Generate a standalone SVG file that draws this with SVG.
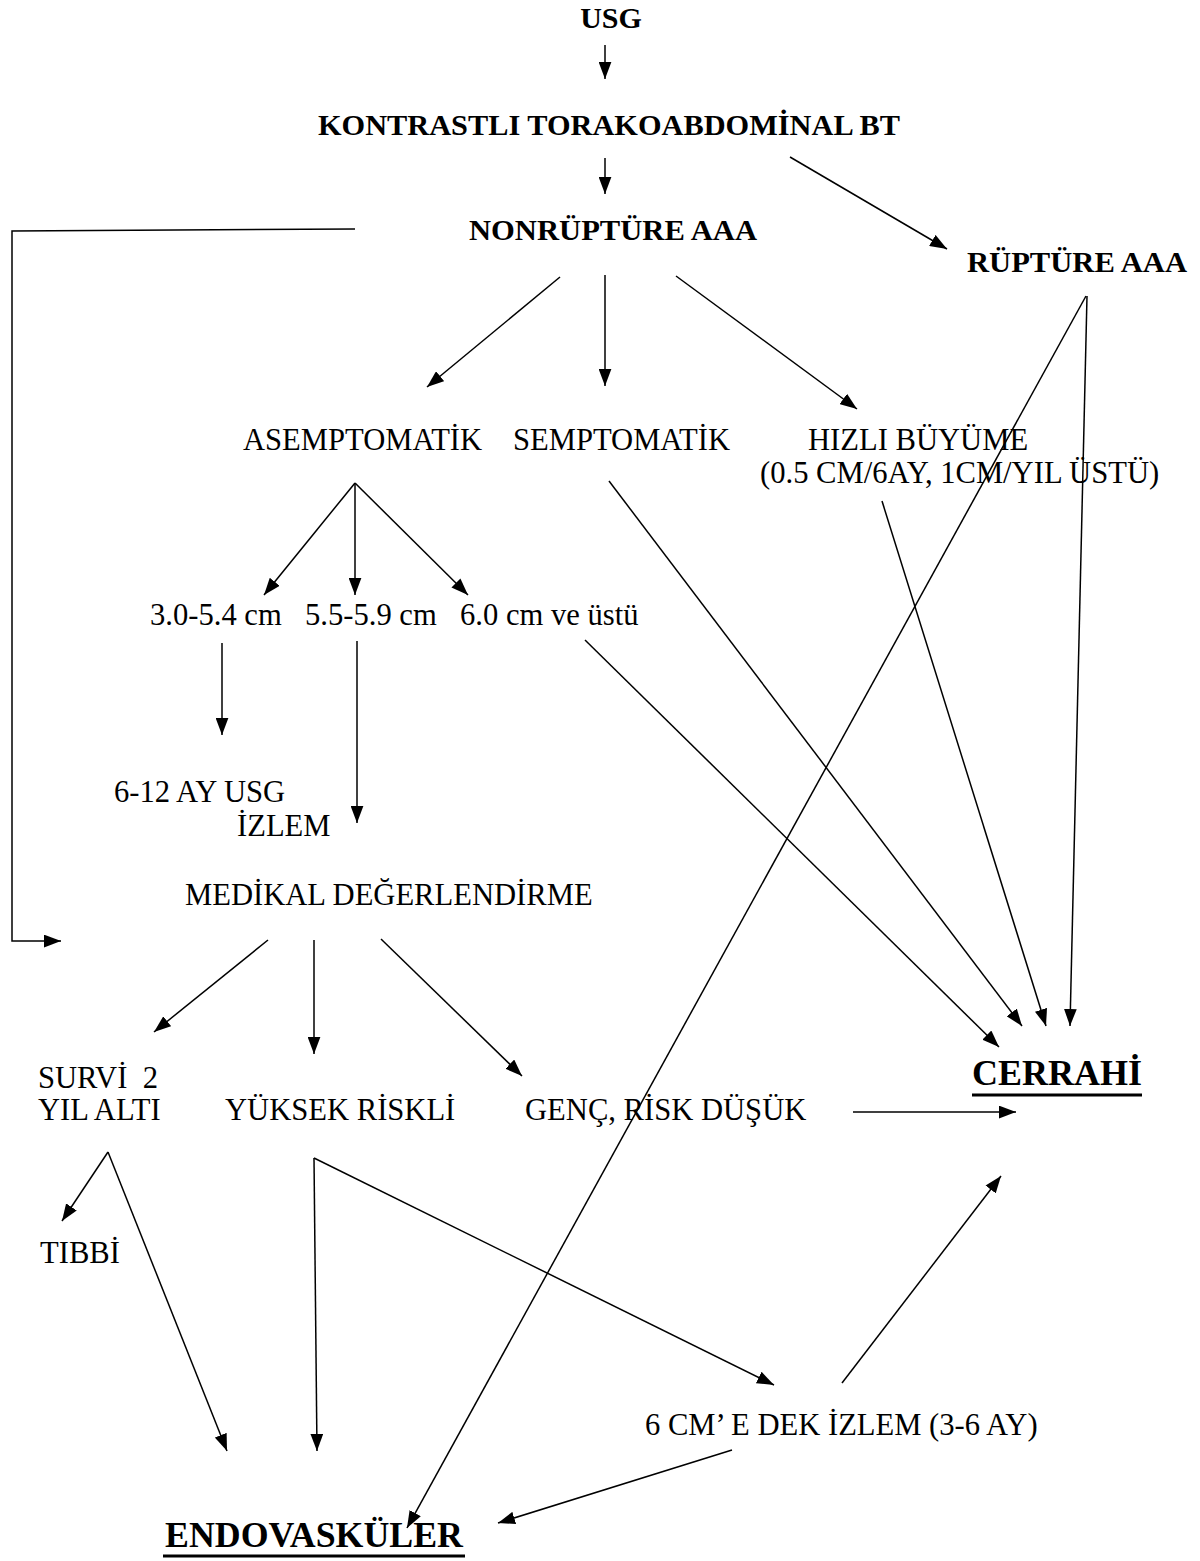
<svg xmlns="http://www.w3.org/2000/svg" width="1200" height="1561" viewBox="0 0 1200 1561">
<style>
.b{font-family:"Liberation Serif","Times New Roman",serif;font-weight:bold;font-size:30px;fill:#000}
.r{font-family:"Liberation Serif","Times New Roman",serif;font-size:30.6px;fill:#000}
.big{font-size:36px}
.c line,.c polyline{stroke:#000;stroke-width:1.5;fill:none;marker-end:url(#ah)}
.u{stroke:#000;stroke-width:3}
</style>
<defs>
<marker id="ah" viewBox="0 0 16 12" refX="16" refY="6" markerWidth="17" markerHeight="13" markerUnits="userSpaceOnUse" orient="auto">
<path d="M0,0 L16,6 L0,12 z" fill="#000"/>
</marker>
</defs>
<rect width="1200" height="1561" fill="#fff"/>

<g id="n-usg"><text class="b" x="611" y="28" text-anchor="middle">USG</text></g>
<g id="n-bt"><text class="b" x="318" y="135" textLength="582" lengthAdjust="spacingAndGlyphs">KONTRASTLI TORAKOABDOMİNAL BT</text></g>
<g id="n-nonruptur"><text class="b" x="469" y="240" textLength="288" lengthAdjust="spacingAndGlyphs">NONRÜPTÜRE AAA</text></g>
<g id="n-ruptur"><text class="b" x="967" y="272" textLength="220" lengthAdjust="spacingAndGlyphs">RÜPTÜRE AAA</text></g>
<g id="n-asempt"><text class="r" x="243" y="450">ASEMPTOMATİK</text></g>
<g id="n-sempt"><text class="r" x="513" y="450">SEMPTOMATİK</text></g>
<g id="n-hizli"><text class="r" x="808" y="450">HIZLI BÜYÜME</text><text class="r" x="760" y="483">(0.5 CM/6AY, 1CM/YIL ÜSTÜ)</text></g>
<g id="n-s1"><text class="r" x="150" y="625">3.0-5.4 cm</text></g>
<g id="n-s2"><text class="r" x="305" y="625">5.5-5.9 cm</text></g>
<g id="n-s3"><text class="r" x="460" y="625">6.0 cm ve üstü</text></g>
<g id="n-usgizlem"><text class="r" x="114" y="802">6-12 AY USG</text></g>
<g id="n-izlem"><text class="r" x="237" y="836">İZLEM</text></g>
<g id="n-medikal"><text class="r" x="185" y="905">MEDİKAL DEĞERLENDİRME</text></g>
<g id="n-survi"><text class="r" x="38" y="1088" xml:space="preserve">SURVİ  2</text><text class="r" x="38" y="1120">YIL ALTI</text></g>
<g id="n-yuksek"><text class="r" x="225" y="1120">YÜKSEK RİSKLİ</text></g>
<g id="n-genc"><text class="r" x="525" y="1120">GENÇ, RİSK DÜŞÜK</text></g>
<g id="n-tibbi"><text class="r" x="40" y="1263">TIBBİ</text></g>
<g id="n-6cm"><text class="r" x="645" y="1435">6 CM’ E DEK İZLEM (3-6 AY)</text></g>
<g id="n-cerrahi"><text class="b big" x="972" y="1085" textLength="170" lengthAdjust="spacingAndGlyphs">CERRAHİ</text><line class="u" x1="972" y1="1095" x2="1142" y2="1095"/></g>
<g id="n-endo"><text class="b big" x="165" y="1547" textLength="298" lengthAdjust="spacingAndGlyphs">ENDOVASKÜLER</text><line class="u" x1="163" y1="1556" x2="465" y2="1556"/></g>

<g id="connectors" class="c">
<line x1="605" y1="45" x2="605" y2="79"/>
<line x1="605" y1="158" x2="605" y2="194"/>
<line x1="790" y1="157" x2="947" y2="249"/>
<polyline points="355,229 12,231 12,941 61,941"/>
<line x1="560" y1="277" x2="427" y2="387"/>
<line x1="605" y1="275" x2="605" y2="386"/>
<line x1="676" y1="276" x2="857" y2="409"/>
<line x1="1086" y1="296" x2="407" y2="1528"/>
<line x1="1087" y1="296" x2="1070" y2="1026"/>
<line x1="355" y1="483" x2="264" y2="595"/>
<line x1="355" y1="483" x2="355" y2="595"/>
<line x1="355" y1="483" x2="468" y2="595"/>
<line x1="609" y1="481" x2="1022" y2="1026"/>
<line x1="882" y1="501" x2="1046" y2="1026"/>
<line x1="585" y1="640" x2="999" y2="1047"/>
<line x1="222" y1="643" x2="222" y2="735"/>
<line x1="357" y1="641" x2="357" y2="823"/>
<line x1="268" y1="940" x2="154" y2="1032"/>
<line x1="314" y1="940" x2="314" y2="1054"/>
<line x1="381" y1="939" x2="522" y2="1076"/>
<line x1="853" y1="1112" x2="1016" y2="1112"/>
<line x1="108" y1="1152" x2="62" y2="1221"/>
<line x1="108" y1="1152" x2="227" y2="1451"/>
<line x1="314" y1="1158" x2="317" y2="1451"/>
<line x1="314" y1="1158" x2="774" y2="1385"/>
<line x1="842" y1="1383" x2="1001" y2="1176"/>
<line x1="732" y1="1450" x2="498" y2="1523"/>
</g>
</svg>
